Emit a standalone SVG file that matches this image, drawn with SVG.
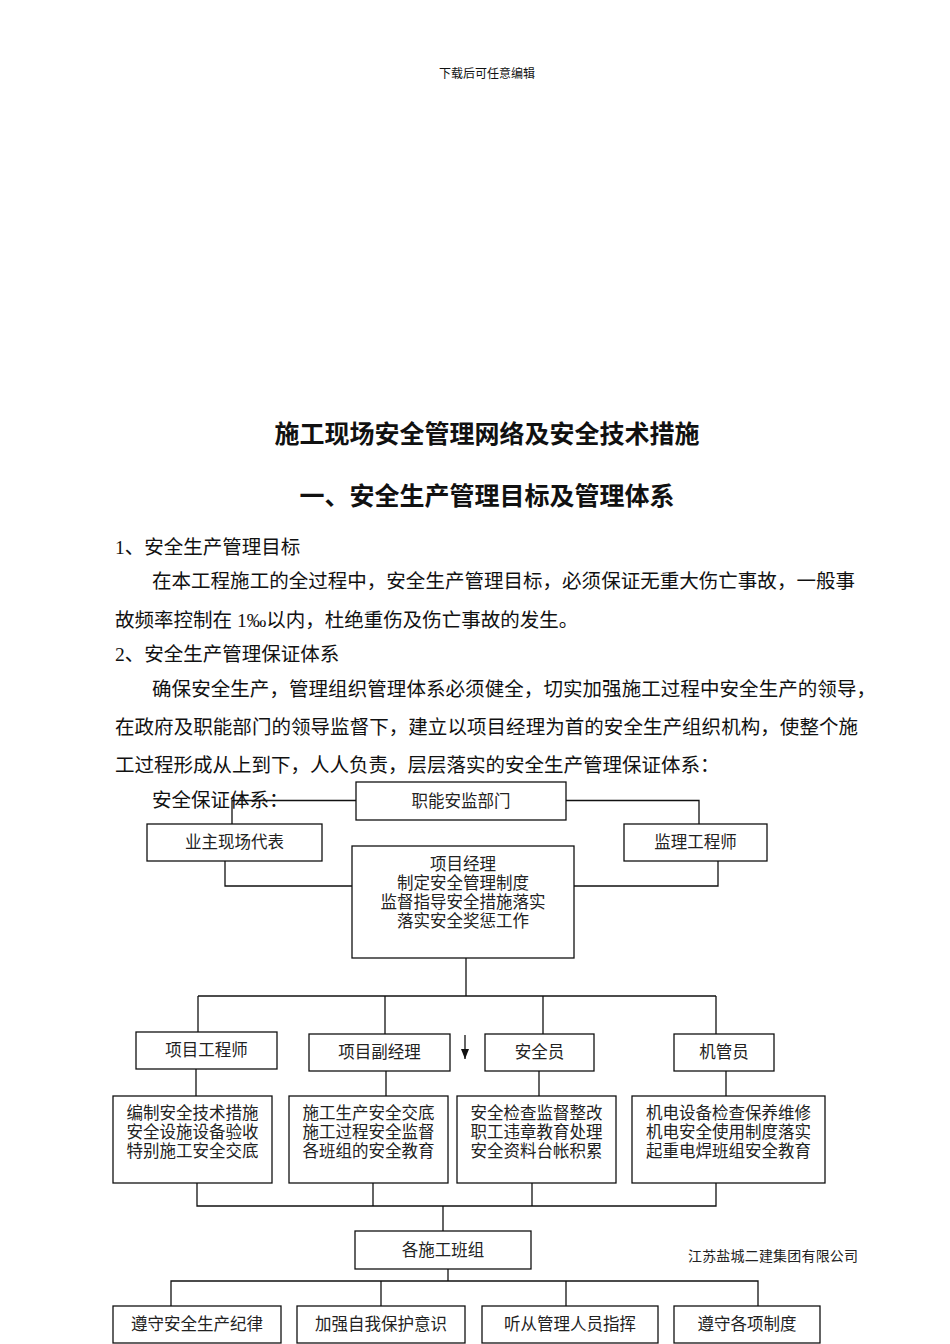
<svg xmlns="http://www.w3.org/2000/svg" width="950" height="1344" viewBox="0 0 950 1344">
<style>
text{font-family:"Liberation Serif","Noto Sans CJK SC",serif;fill:#111;dominant-baseline:central}
.hd{font-size:12px;text-anchor:middle}
.t1{font-size:25px;font-weight:bold;text-anchor:middle}
.bd{font-size:19.5px}
.bx{font-size:16.5px;text-anchor:middle;fill:#222}
.co{font-size:14px;fill:#222}
rect{fill:#fff;stroke:#111;stroke-width:1.3}
.ln{fill:none;stroke:#111;stroke-width:1.3}
</style>
<defs>
<marker id="ah" markerWidth="10" markerHeight="8" refX="10" refY="4" orient="auto" markerUnits="userSpaceOnUse" viewBox="0 0 10 8">
<path d="M0,0 L10,4 L0,8 Z" fill="#111"/>
</marker>
</defs>
<rect width="950" height="1344" style="fill:#fff;stroke:none"/>
<text class="hd" x="487" y="74">下载后可任意编辑</text>
<text class="t1" x="487" y="434">施工现场安全管理网络及安全技术措施</text>
<text class="t1" x="487" y="496">一、安全生产管理目标及管理体系</text>
<text class="bd" x="115" y="547">1、安全生产管理目标</text>
<text class="bd" x="152" y="581" textLength="703" lengthAdjust="spacing">在本工程施工的全过程中，安全生产管理目标，必须保证无重大伤亡事故，一般事</text>
<text class="bd" x="115" y="620">故频率控制在 1‰以内，杜绝重伤及伤亡事故的发生。</text>
<text class="bd" x="115" y="654">2、安全生产管理保证体系</text>
<text class="bd" x="152" y="689" textLength="724" lengthAdjust="spacing">确保安全生产，管理组织管理体系必须健全，切实加强施工过程中安全生产的领导，</text>
<text class="bd" x="115" y="727" textLength="743" lengthAdjust="spacing">在政府及职能部门的领导监督下，建立以项目经理为首的安全生产组织机构，使整个施</text>
<text class="bd" x="115" y="765">工过程形成从上到下，人人负责，层层落实的安全生产管理保证体系：</text>
<text class="bd" x="152" y="800">安全保证体系：</text>

<g id="connectors">
<path class="ln" d="M356,800.5 H232 V824"/>
<path class="ln" d="M566,800.5 H699 V824"/>
<path class="ln" d="M225,861 V886 H352"/>
<path class="ln" d="M718,861 V886 H574"/>
<path class="ln" d="M466,958 V996"/>
<path class="ln" d="M198,996 H716"/>
<path class="ln" d="M198,996 V1032"/>
<path class="ln" d="M385,996 V1034"/>
<path class="ln" d="M543,996 V1034"/>
<path class="ln" d="M716,996 V1034"/>
<path class="ln" d="M465,1035 V1059" marker-end="url(#ah)"/>
<path class="ln" d="M196,1069 V1096"/>
<path class="ln" d="M386,1071 V1096"/>
<path class="ln" d="M539,1071 V1096"/>
<path class="ln" d="M726,1071 V1096"/>
<path class="ln" d="M197,1183 V1206 H716 V1183"/>
<path class="ln" d="M373,1183 V1206"/>
<path class="ln" d="M532,1183 V1206"/>
<path class="ln" d="M443,1206 V1231"/>
<path class="ln" d="M448,1269 V1281"/>
<path class="ln" d="M171,1306 V1281 H758 V1306"/>
<path class="ln" d="M381,1281 V1306"/>
<path class="ln" d="M566,1281 V1306"/>
</g>

<g id="n-zhineng"><rect x="356" y="782" width="210" height="38"/><text class="bx" x="461" y="801">职能安监部门</text></g>
<g id="n-yezhu"><rect x="147" y="824" width="175" height="37"/><text class="bx" x="234.5" y="842">业主现场代表</text></g>
<g id="n-jianli"><rect x="624" y="824" width="143" height="37"/><text class="bx" x="695.5" y="842">监理工程师</text></g>
<g id="n-xmjl"><rect x="352" y="846" width="222" height="112"/>
<text class="bx" x="463" y="864">项目经理</text>
<text class="bx" x="463" y="883">制定安全管理制度</text>
<text class="bx" x="463" y="902">监督指导安全措施落实</text>
<text class="bx" x="463" y="921">落实安全奖惩工作</text></g>

<g id="n-gcs"><rect x="136" y="1032" width="141" height="37"/><text class="bx" x="206.5" y="1050">项目工程师</text></g>
<g id="n-fjl"><rect x="309" y="1034" width="141" height="37"/><text class="bx" x="379.5" y="1052">项目副经理</text></g>
<g id="n-aqy"><rect x="485" y="1034" width="109" height="37"/><text class="bx" x="539.5" y="1052">安全员</text></g>
<g id="n-jgy"><rect x="674" y="1034" width="100" height="37"/><text class="bx" x="724" y="1052">机管员</text></g>

<g id="n-d1"><rect x="113" y="1096" width="159" height="87"/>
<text class="bx" x="192.5" y="1113">编制安全技术措施</text>
<text class="bx" x="192.5" y="1132">安全设施设备验收</text>
<text class="bx" x="192.5" y="1151">特别施工安全交底</text></g>
<g id="n-d2"><rect x="289" y="1096" width="159" height="87"/>
<text class="bx" x="368.5" y="1113">施工生产安全交底</text>
<text class="bx" x="368.5" y="1132">施工过程安全监督</text>
<text class="bx" x="368.5" y="1151">各班组的安全教育</text></g>
<g id="n-d3"><rect x="457" y="1096" width="159" height="87"/>
<text class="bx" x="536.5" y="1113">安全检查监督整改</text>
<text class="bx" x="536.5" y="1132">职工违章教育处理</text>
<text class="bx" x="536.5" y="1151">安全资料台帐积累</text></g>
<g id="n-d4"><rect x="632" y="1096" width="193" height="87"/>
<text class="bx" x="728.5" y="1113">机电设备检查保养维修</text>
<text class="bx" x="728.5" y="1132">机电安全使用制度落实</text>
<text class="bx" x="728.5" y="1151">起重电焊班组安全教育</text></g>

<g id="n-bz"><rect x="355" y="1231" width="176" height="38"/><text class="bx" x="443" y="1250">各施工班组</text></g>

<g id="n-b1"><rect x="113" y="1306" width="168" height="37"/><text class="bx" x="197" y="1324">遵守安全生产纪律</text></g>
<g id="n-b2"><rect x="297" y="1306" width="168" height="37"/><text class="bx" x="381" y="1324">加强自我保护意识</text></g>
<g id="n-b3"><rect x="482" y="1306" width="176" height="37"/><text class="bx" x="570" y="1324">听从管理人员指挥</text></g>
<g id="n-b4"><rect x="674" y="1306" width="146" height="37"/><text class="bx" x="747" y="1324">遵守各项制度</text></g>

<text class="co" x="688" y="1256" textLength="170" lengthAdjust="spacing">江苏盐城二建集团有限公司</text>
</svg>
